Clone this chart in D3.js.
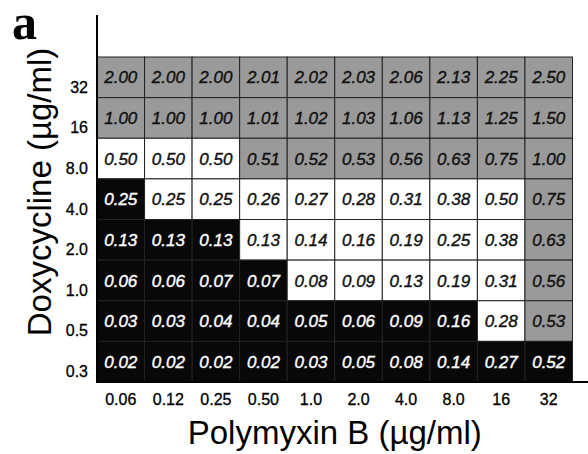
<!DOCTYPE html>
<html>
<head>
<meta charset="utf-8">
<script src="https://cdn.jsdelivr.net/npm/d3@7"></script>
<style>
  body { margin: 0; background: #fff; }
  svg { display: block; font-family: "Liberation Sans", Arial, sans-serif; }
</style>
</head>
<body>
<svg width="588" height="454"></svg>
<script>
// polymyxin B concentrations (columns)
const polymyxin = ['0.06', '0.12', '0.25', '0.50', '1.0', '2.0', '4.0', '8.0', '16', '32']
// doxycycline concentrations (rows, top to bottom)
const doxycycline = ['32', '16', '8.0', '4.0', '2.0', '1.0', '0.5', '0.3']

// FIC index per cell, row by row
const fici = [
  ['2.00', '2.00', '2.00', '2.01', '2.02', '2.03', '2.06', '2.13', '2.25', '2.50'],
  ['1.00', '1.00', '1.00', '1.01', '1.02', '1.03', '1.06', '1.13', '1.25', '1.50'],
  ['0.50', '0.50', '0.50', '0.51', '0.52', '0.53', '0.56', '0.63', '0.75', '1.00'],
  ['0.25', '0.25', '0.25', '0.26', '0.27', '0.28', '0.31', '0.38', '0.50', '0.75'],
  ['0.13', '0.13', '0.13', '0.13', '0.14', '0.16', '0.19', '0.25', '0.38', '0.63'],
  ['0.06', '0.06', '0.07', '0.07', '0.08', '0.09', '0.13', '0.19', '0.31', '0.56'],
  ['0.03', '0.03', '0.04', '0.04', '0.05', '0.06', '0.09', '0.16', '0.28', '0.53'],
  ['0.02', '0.02', '0.02', '0.02', '0.03', '0.05', '0.08', '0.14', '0.27', '0.52']
]

// growth class per cell: g = grey, w = white, b = black
const growth = [
  'gggggggggg',
  'gggggggggg',
  'wwwggggggg',
  'bwwwwwwwwg',
  'bbbwwwwwwg',
  'bbbbwwwwwg',
  'bbbbbbbbwg',
  'bbbbbbbbbb'
]

const fills = { g: '#9a9a9a', w: '#ffffff', b: '#080808' }
const inks = { g: '#111', w: '#111', b: '#fff' }

const svg = d3.select('svg')
const gridLeft = 97, gridRight = 572.5, gridTop = 57, gridBottom = 382

const x = d3.scaleBand().domain(polymyxin).range([gridLeft, gridRight])
const y = d3.scaleBand().domain(doxycycline).range([gridTop, gridBottom])

const cells = []
fici.forEach((row, i) => {
  row.forEach((v, j) => {
    cells.push({ dox: doxycycline[i], pmb: polymyxin[j], value: v, cls: growth[i][j] })
  })
})

const g = svg.append('g').attr('class', 'cells')

g.selectAll('rect')
  .data(cells)
  .enter().append('rect')
  .attr('x', d => x(d.pmb))
  .attr('y', d => y(d.dox))
  .attr('width', x.bandwidth())
  .attr('height', y.bandwidth())
  .attr('fill', d => fills[d.cls])
  .attr('stroke', '#222')
  .attr('stroke-width', 1)

// a thin stroke in the same colour makes the numbers a bit heavier, like the scan
g.selectAll('text')
  .data(cells)
  .enter().append('text')
  .attr('x', d => x(d.pmb) + x.bandwidth() / 2)
  .attr('y', d => y(d.dox) + y.bandwidth() / 2)
  .attr('dy', '0.36em')
  .attr('text-anchor', 'middle')
  .attr('font-size', 17)
  .attr('font-style', 'italic')
  .attr('fill', d => inks[d.cls])
  .attr('stroke', d => inks[d.cls])
  .attr('stroke-width', 0.4)
  .text(d => d.value)

// axes drawn by hand: only lines + labels, no ticks
svg.append('line')
  .attr('x1', gridLeft).attr('x2', gridLeft)
  .attr('y1', 15).attr('y2', gridBottom + 1)
  .attr('stroke', '#000').attr('stroke-width', 2)

svg.append('line')
  .attr('x1', gridLeft).attr('x2', 588)
  .attr('y1', gridBottom).attr('y2', gridBottom)
  .attr('stroke', '#000').attr('stroke-width', 2)

svg.append('g').selectAll('text')
  .data(doxycycline)
  .enter().append('text')
  .attr('x', 88)
  .attr('y', d => y(d) + y.bandwidth() - 5)
  .attr('text-anchor', 'end')
  .attr('font-size', 16)
  .attr('stroke', '#000')
  .attr('stroke-width', 0.3)
  .text(d => d)

svg.append('g').selectAll('text')
  .data(polymyxin)
  .enter().append('text')
  .attr('x', d => x(d) + x.bandwidth() / 2)
  .attr('y', 405)
  .attr('text-anchor', 'middle')
  .attr('font-size', 16)
  .attr('stroke', '#000')
  .attr('stroke-width', 0.3)
  .text(d => d)

svg.append('text')
  .attr('x', (gridLeft + gridRight) / 2)
  .attr('y', 444)
  .attr('text-anchor', 'middle')
  .attr('font-size', 33)
  .text('Polymyxin B (\u00b5g/ml)')

svg.append('text')
  .attr('transform', 'translate(51,192) rotate(-90)')
  .attr('text-anchor', 'middle')
  .attr('font-size', 33)
  .text('Doxycycline (\u00b5g/ml)')

svg.append('text')
  .attr('x', 12)
  .attr('y', 39)
  .attr('font-family', '"Liberation Serif", "Times New Roman", serif')
  .attr('font-weight', 'bold')
  .attr('font-size', 50)
  .text('a')
</script>
</body>
</html>
